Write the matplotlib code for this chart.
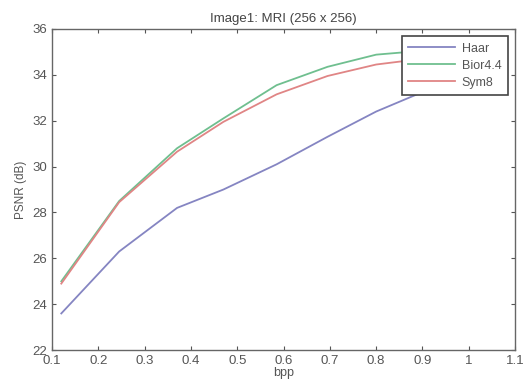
import matplotlib
matplotlib.use("Agg")
import matplotlib.pyplot as plt

bpp = [0.12, 0.245, 0.37, 0.47, 0.585, 0.695, 0.80, 0.90, 1.0]
haar = [23.6, 26.3, 28.2, 29.0, 30.1, 31.3, 32.4, 33.25, 33.9]
bior = [25.0, 28.5, 30.8, 32.1, 33.55, 34.35, 34.88, 35.05, 35.2]
sym8 = [24.9, 28.45, 30.65, 31.95, 33.15, 33.95, 34.45, 34.7, 34.85]
xticks = [0.1, 0.2, 0.3, 0.4, 0.5, 0.6, 0.7, 0.8, 0.9, 1, 1.1]
xticklabels = ["0.1", "0.2", "0.3", "0.4", "0.5", "0.6", "0.7", "0.8", "0.9", "1", "1.1"]
yticks = [22, 24, 26, 28, 30, 32, 34, 36]

plt.rcParams['font.family'] = ['Liberation Sans', 'DejaVu Sans']
fig = plt.figure(figsize=(5.31, 3.81), dpi=100)
ax = fig.add_axes([0.098, 0.081, 0.872, 0.843])
ax.plot(bpp, haar, color='#8585c2', lw=1.3, label='Haar')
ax.plot(bpp, bior, color='#6fbf8f', lw=1.3, label='Bior4.4')
ax.plot(bpp, sym8, color='#e08585', lw=1.3, label='Sym8')
ax.set_xlim(0.1, 1.1)
ax.set_ylim(22, 36)
ax.set_xticks(xticks)
ax.set_xticklabels(xticklabels)
ax.set_yticks(yticks)
ax.tick_params(direction='in', top=True, right=True, length=3, labelsize=9.5, colors='#555555', labelcolor='#555555')
for s in ax.spines.values():
    s.set_color('#666666')
    s.set_linewidth(1.0)
ax.set_title('Image1: MRI (256 x 256)', fontsize=9.5, color='#444444', pad=5)
ax.set_xlabel('bpp', fontsize=9, color='#555555', labelpad=0)
ax.set_ylabel('PSNR (dB)', fontsize=8.5, color='#555555', labelpad=4)
leg = ax.legend(loc='upper right', fontsize=9, frameon=True, fancybox=False,
                edgecolor='#444444', framealpha=1, borderpad=0.5, labelspacing=0.4,
                handlelength=3.8, handletextpad=0.5, borderaxespad=0.6)
leg.get_frame().set_linewidth(1.2)
for t in leg.get_texts():
    t.set_color('#555555')
fig.savefig('out.png', dpi=100)
